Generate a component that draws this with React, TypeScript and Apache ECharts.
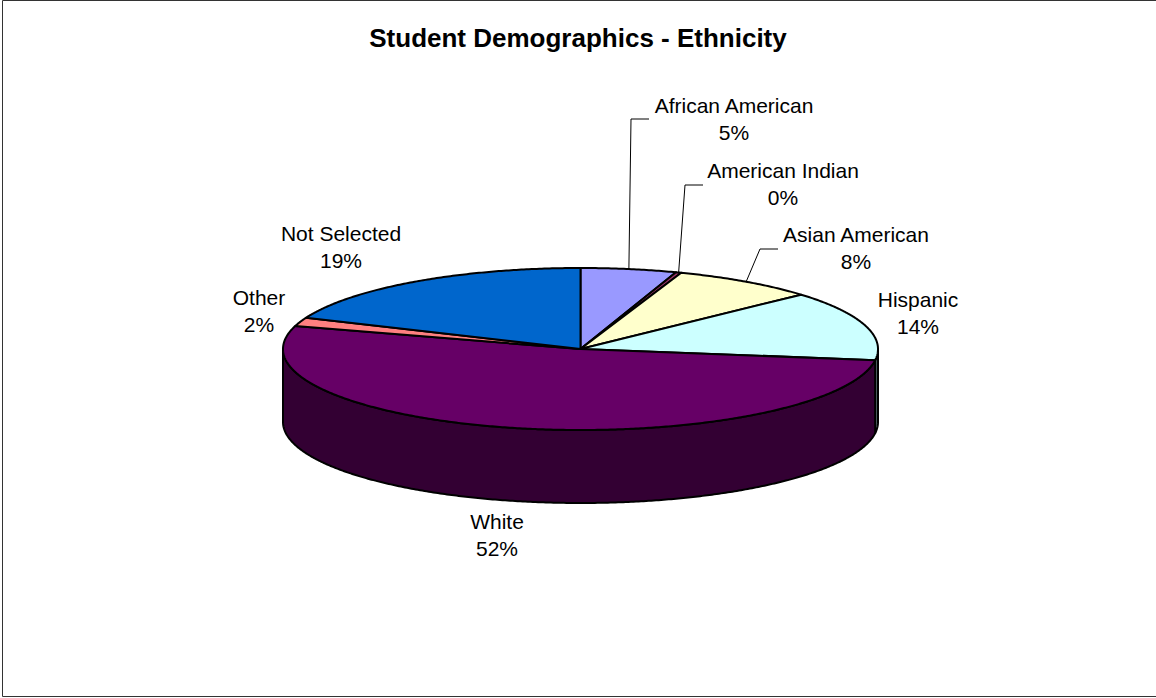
import React, { useEffect, useRef } from 'react';
import * as echarts from 'echarts';

const TITLE = 'Student Demographics - Ethnicity';
const names = ['African American', 'American Indian', 'Asian American', 'Hispanic', 'White', 'Other', 'Not Selected'];
const values = [5.2, 0.3, 7.8, 13.9, 52.4, 1.7, 18.7];
const topColors = ['#9999FF', '#993366', '#FFFFCC', '#CCFFFF', '#660066', '#FF8080', '#0066CC'];
const sideColors = ['#4D4D80', '#4D1A33', '#808066', '#668080', '#330033', '#804040', '#003366'];

// label layout: centre x and first-line baseline y (pixels)
const labelX = [734, 783, 856, 918, 497, 259, 341];
const labelY = [113, 178, 242, 307, 529, 305, 241];
const leaderElbow: ([number, number] | null)[] = [[631, 119], [685, 185], [760, 249], null, null, null, null];

const CX = 580.5, CY = 349, RX = 297.5, RY = 81, DEPTH = 73;
const FONT = '"Liberation Sans", Arial, Helvetica, sans-serif';
const LABEL_SIZE = 21;
const LINE_GAP = 27;

function rim(theta: number, dy = 0): number[] {
  return [CX + RX * Math.sin(theta), CY - RY * Math.cos(theta) + dy];
}

function arcPoints(a0: number, a1: number, dy: number): number[][] {
  const n = Math.max(2, Math.ceil((a1 - a0) / (Math.PI / 360)));
  const pts: number[][] = [];
  for (let k = 0; k <= n; k++) pts.push(rim(a0 + ((a1 - a0) * k) / n, dy));
  return pts;
}

const total = values.reduce((a, b) => a + b, 0);
const starts: number[] = [];
values.reduce((acc, v, i) => { starts[i] = acc; return acc + v; }, 0);

export default function App() {
  const ref = useRef<HTMLDivElement>(null);
  useEffect(() => {
    if (!ref.current) return;
    const chart = echarts.init(ref.current, null, { renderer: 'svg' });
    chart.setOption({
      animation: false,
      backgroundColor: '#ffffff',
      title: {
        text: TITLE,
        left: 'center',
        top: 20,
        textStyle: { fontSize: 26, fontWeight: 'bold', fontFamily: FONT, color: '#000' },
      },
      graphic: [
        {
          type: 'rect',
          shape: { x: 2.5, y: 0.5, width: 1200, height: 696 },
          style: { fill: 'none', stroke: '#333', lineWidth: 1 },
          silent: true,
        },
      ],
      series: [
        {
          type: 'custom',
          coordinateSystem: 'none',
          silent: true,
          data: values.map((v, i) => ({ name: names[i], value: [v] })),
          renderItem: (params: any, api: any) => {
            const i = params.dataIndex;
            const v = api.value(0) as number;
            const a0 = (starts[i] / total) * Math.PI * 2;
            const a1 = a0 + (v / total) * Math.PI * 2;
            const children: any[] = [];
            const s = Math.max(a0, Math.PI / 2);
            const e = Math.min(a1, (Math.PI * 3) / 2);
            if (e > s) {
              const top = arcPoints(s, e, 0);
              const bottom = arcPoints(s, e, DEPTH).reverse();
              children.push({
                type: 'polygon',
                shape: { points: top.concat(bottom) },
                style: { fill: sideColors[i], stroke: '#000', lineWidth: 2, lineJoin: 'round' },
              });
            }
            children.push({
              type: 'polygon',
              shape: { points: [[CX, CY]].concat(arcPoints(a0, a1, 0)) },
              style: { fill: topColors[i], stroke: '#000', lineWidth: 2, lineJoin: 'round' },
            });
            const elbow = leaderElbow[i];
            if (elbow) {
              const p = rim((a0 + a1) / 2);
              children.push({
                type: 'polyline',
                shape: { points: [p, elbow, [elbow[0] + 18, elbow[1]]] },
                style: { stroke: '#000', lineWidth: 1, fill: null },
              });
            }
            const pct = Math.round((v / total) * 100) + '%';
            const off = 0.3465 * LABEL_SIZE;
            children.push({
              type: 'text',
              style: {
                text: names[i], x: labelX[i], y: labelY[i] - off,
                align: 'center', verticalAlign: 'middle',
                fontSize: LABEL_SIZE, fontFamily: FONT, fill: '#000',
              },
            });
            children.push({
              type: 'text',
              style: {
                text: pct, x: labelX[i], y: labelY[i] + LINE_GAP - off,
                align: 'center', verticalAlign: 'middle',
                fontSize: LABEL_SIZE, fontFamily: FONT, fill: '#000',
              },
            });
            return { type: 'group', children };
          },
        },
      ],
    });
    return () => chart.dispose();
  }, []);
  return <div ref={ref} style={{ position: 'absolute', left: 0, top: 0, width: 1156, height: 698 }} />;
}
